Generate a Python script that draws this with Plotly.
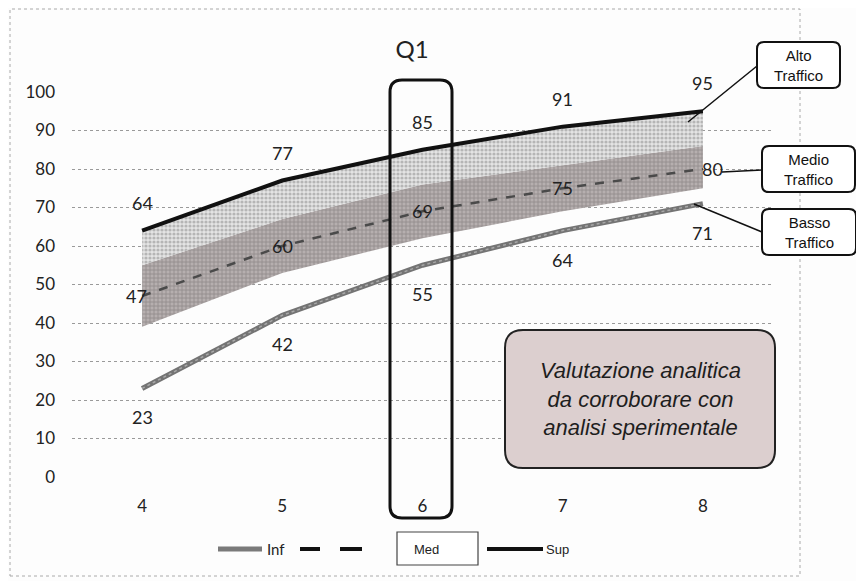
import plotly.graph_objects as go

# ---- data ----
x_vals = [4, 5, 6, 7, 8]
inf_vals = [23, 42, 55, 64, 71]
med_vals = [47, 60, 69, 75, 80]
sup_vals = [64, 77, 85, 91, 95]
band_lo = [39, 53, 62, 69, 75]
band_hi = [55, 67, 76, 81, 86]
y_ticks = [0, 10, 20, 30, 40, 50, 60, 70, 80, 90, 100]

# page offset (body margin) and plot area in page pixels
OFF = 8
FW, FH = 864 - OFF, 581 - OFF
PL, PR, PT, PB = 72, 773, 92, 477
W, H = PR - PL, PB - PT


def fx(p):
    return (p - PL) / W


def fy(p):
    return (PB - p) / H


def rrect(x0, y0, x1, y1, r):
    l, rr_, t, b = fx(x0), fx(x1), fy(y0), fy(y1)
    rx, ry = r / W, r / H
    return (f"M {l+rx},{t} L {rr_-rx},{t} Q {rr_},{t} {rr_},{t-ry} "
            f"L {rr_},{b+ry} Q {rr_},{b} {rr_-rx},{b} L {l+rx},{b} "
            f"Q {l},{b} {l},{b+ry} L {l},{t-ry} Q {l},{t} {l+rx},{t} Z")


fig = go.Figure()

# dark (medio) band
fig.add_trace(go.Scatter(x=x_vals, y=band_lo, mode="lines", line=dict(width=0, color="rgba(0,0,0,0)"),
                         showlegend=False, hoverinfo="skip"))
fig.add_trace(go.Scatter(x=x_vals, y=band_hi, mode="lines", line=dict(width=0, color="rgba(0,0,0,0)"),
                         fill="tonexty", fillcolor="#aeaaaa",
                         fillpattern=dict(shape="+", fgcolor="#666262", bgcolor="#b6afaf", size=4, solidity=0.35),
                         showlegend=False, hoverinfo="skip"))
# light (alto) band up to Sup
fig.add_trace(go.Scatter(x=x_vals, y=sup_vals, mode="lines", line=dict(width=4, color="#111111"),
                         fill="tonexty", fillcolor="#dddddd",
                         fillpattern=dict(shape=".", fgcolor="#858585", bgcolor="#e4e4e4", size=4, solidity=0.5),
                         name="Sup", showlegend=False))
# Med dashed
fig.add_trace(go.Scatter(x=x_vals, y=med_vals, mode="lines", line=dict(width=2.5, color="#4a4a4a", dash="dash"),
                         name="Med", showlegend=False))
# Inf
fig.add_trace(go.Scatter(x=x_vals, y=inf_vals, mode="lines", line=dict(width=5, color="#747474"),
                         name="Inf", showlegend=False))
fig.add_trace(go.Scatter(x=x_vals, y=inf_vals, mode="lines", line=dict(width=1.5, color="#a8a8a8", dash="dot"),
                         showlegend=False, hoverinfo="skip"))

lab_font = dict(family="Lato, Open Sans, sans-serif", size=18, color="#222222")
anns = []
for xv, v in zip(x_vals, sup_vals):
    anns.append(dict(x=xv, y=v, xref="x", yref="y", text=str(v), showarrow=False, yshift=28, font=lab_font))
for i, (xv, v) in enumerate(zip(x_vals, med_vals)):
    xs = -6 if i == 0 else (10 if i == len(x_vals) - 1 else 0)
    anns.append(dict(x=xv, y=v, xref="x", yref="y", text=str(v), showarrow=False, xshift=xs, font=lab_font))
for xv, v in zip(x_vals, inf_vals):
    anns.append(dict(x=xv, y=v, xref="x", yref="y", text=str(v), showarrow=False, yshift=-29, font=lab_font))

shapes = []
# outer dotted frame
shapes.append(dict(type="rect", xref="paper", yref="paper", x0=fx(10), x1=fx(800), y0=fy(576), y1=fy(9),
                   line=dict(color="#aaaaaa", width=1, dash="dot"), layer="below"))
# tall box around x=6
shapes.append(dict(type="path", xref="paper", yref="paper", path=rrect(390, 80, 452, 518, 12),
                   line=dict(color="#111111", width=3), layer="above"))
# note box
shapes.append(dict(type="path", xref="paper", yref="paper", path=rrect(505, 330, 775, 468, 18),
                   line=dict(color="#222222", width=2), fillcolor="#dccfcf", layer="above"))
# callout boxes and leaders
callouts = [
    ("Alto<br>Traffico", (757, 42, 840, 88), ((688, 122), (757, 66))),
    ("Medio<br>Traffico", (762, 146, 855, 192), ((722, 172), (762, 170))),
    ("Basso<br>Traffico", (762, 209, 856, 255), ((694, 204), (762, 232))),
]
for txt, (a, b, c, d), ((lx0, ly0), (lx1, ly1)) in callouts:
    shapes.append(dict(type="line", xref="paper", yref="paper", x0=fx(lx0), y0=fy(ly0), x1=fx(lx1), y1=fy(ly1),
                       line=dict(color="#111111", width=1.5), layer="above"))
    shapes.append(dict(type="path", xref="paper", yref="paper", path=rrect(a, b, c, d, 7),
                       line=dict(color="#111111", width=2), fillcolor="#ffffff", layer="above"))
    anns.append(dict(x=fx((a + c) / 2), y=fy((b + d) / 2), xref="paper", yref="paper", text=txt, showarrow=False,
                     font=dict(family="Liberation Sans, Arial, sans-serif", size=15, color="#111111"),
                     xanchor="center", yanchor="middle"))

anns.append(dict(x=fx(640), y=fy(399), xref="paper", yref="paper",
                 text="<i>Valutazione analitica<br>da corroborare con<br>analisi sperimentale</i>",
                 showarrow=False, xanchor="center", yanchor="middle",
                 font=dict(family="Liberation Sans, Arial, sans-serif", size=22, color="#1e1e1e")))

# legend (manual)
ly = 549
shapes.append(dict(type="line", xref="paper", yref="paper", x0=fx(218), x1=fx(262), y0=fy(ly), y1=fy(ly),
                   line=dict(color="#7a7a7a", width=5)))
anns.append(dict(x=fx(265), y=fy(ly), xref="paper", yref="paper", text="Inf", showarrow=False,
                 xanchor="left", yanchor="middle",
                 font=dict(family="Lato, sans-serif", size=15, color="#222")))
for a, b in [(300, 320), (340, 362)]:
    shapes.append(dict(type="line", xref="paper", yref="paper", x0=fx(a), x1=fx(b), y0=fy(ly), y1=fy(ly),
                       line=dict(color="#111111", width=4)))
shapes.append(dict(type="rect", xref="paper", yref="paper", x0=fx(397), x1=fx(478), y0=fy(565), y1=fy(532),
                   line=dict(color="#444444", width=1.2), fillcolor="#ffffff"))
anns.append(dict(x=fx(412), y=fy(ly), xref="paper", yref="paper", text="Med", showarrow=False,
                 xanchor="left", yanchor="middle",
                 font=dict(family="Liberation Sans, Arial, sans-serif", size=13, color="#222")))
shapes.append(dict(type="line", xref="paper", yref="paper", x0=fx(487), x1=fx(543), y0=fy(ly), y1=fy(ly),
                   line=dict(color="#111111", width=4)))
anns.append(dict(x=fx(544), y=fy(ly), xref="paper", yref="paper", text="Sup", showarrow=False,
                 xanchor="left", yanchor="middle",
                 font=dict(family="Liberation Sans, Arial, sans-serif", size=13, color="#222")))

fig.update_layout(
    width=FW, height=FH,
    margin=dict(l=PL - OFF, r=864 - PR, t=PT - OFF, b=581 - PB),
    paper_bgcolor="#fdfdfd", plot_bgcolor="#fdfdfd",
    title=dict(text="Q1", xref="paper", x=fx(412), xanchor="center", y=1 - (50 - OFF) / FH, yanchor="middle",
               font=dict(family="Lato, Open Sans, sans-serif", size=24, color="#222")),
    xaxis=dict(range=[3.5, 8.5], tickvals=x_vals, ticktext=[str(v) for v in x_vals], showgrid=False,
               zeroline=False, showline=False, ticks="", ticklabelstandoff=17,
               tickfont=dict(family="Lato, sans-serif", size=17, color="#222")),
    yaxis=dict(range=[0, 100], tickvals=y_ticks, showgrid=True, gridcolor="#9a9a9a", griddash="dot",
               gridwidth=1, zeroline=False, showline=False, ticks="", ticklabelstandoff=16,
               tickfont=dict(family="Lato, sans-serif", size=17, color="#222")),
    annotations=anns, shapes=shapes, showlegend=False,
)

fig.write_html("out.html")
